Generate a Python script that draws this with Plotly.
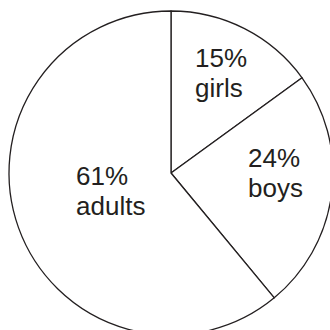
import plotly.graph_objects as go

labels = ["girls", "boys", "adults"]
values = [15, 24, 61]
# label anchor positions in pixels (left x, baseline y of first line)
label_px_x = [194, 247, 75]
label_px_base = [67, 167, 185]

W = H = 345
FS = 26
LINE = 30
fig = go.Figure(go.Pie(
    labels=labels, values=values, sort=False, direction="clockwise", rotation=0,
    marker=dict(colors=["white"] * 3, line=dict(color="#231f20", width=1.3)),
    textinfo="none", hoverinfo="skip", showlegend=False,
    domain=dict(x=[9 / W, 333 / W], y=[1 - 335 / H, 1 - 11 / H]),
))

annotations = []
font = dict(family="Liberation Sans, Arial, sans-serif", size=FS, color="#231f20")
for lab, v, px, pb in zip(labels, values, label_px_x, label_px_base):
    for i, t in enumerate([f"{v}%", lab]):
        cy = pb + i * LINE - 0.36 * FS
        annotations.append(dict(
            text=t, x=px / W, y=1 - cy / H, xref="paper", yref="paper",
            xanchor="left", yanchor="middle", align="left", showarrow=False,
            font=font, borderpad=0,
        ))

fig.update_layout(
    width=W, height=H, margin=dict(l=0, r=0, t=0, b=0),
    paper_bgcolor="white", plot_bgcolor="white", annotations=annotations,
)
fig.write_html("out.html", post_script="document.documentElement.style.overflow='hidden';document.body.style.overflow='hidden';document.body.style.margin='0';")
